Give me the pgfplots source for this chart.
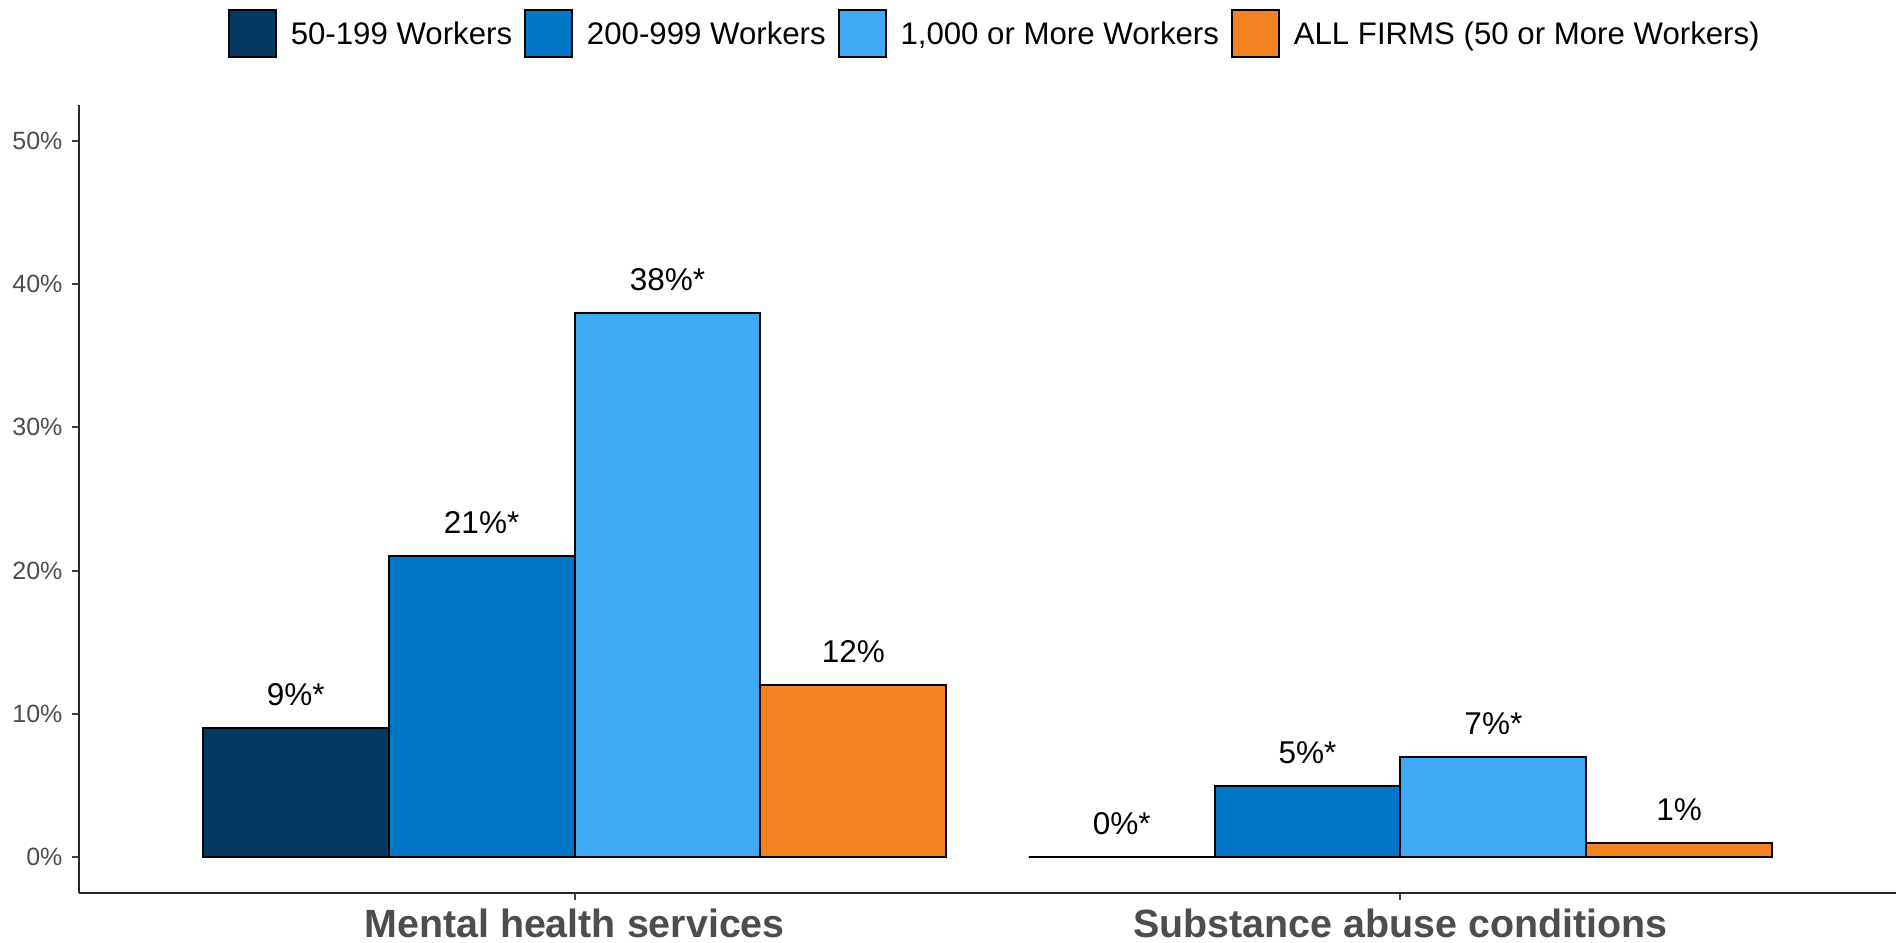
\documentclass[border=0pt]{standalone}
\usepackage{fontspec}
\setmainfont{Liberation Sans}
\usepackage{pgfplots}
\pgfplotsset{compat=1.18}
\definecolor{c1}{HTML}{023A62}
\definecolor{c2}{HTML}{0077C8}
\definecolor{c3}{HTML}{3FA9F5}
\definecolor{c4}{HTML}{F58220}
\definecolor{tickgray}{HTML}{4D4D4D}
\begin{document}
\begin{tikzpicture}
\begin{axis}[
  name=ax,
  scale only axis, width=908.5pt, height=394pt,
  xmin=0.4, xmax=2.6, ymin=-2.5, ymax=52.5,
  axis x line*=bottom, axis y line*=left,
  axis line style={line width=1.1pt, black!85},
  xtick={1,2}, xticklabels={Mental health services, Substance abuse conditions},
  ytick={0,10,20,30,40,50}, yticklabels={0\%,10\%,20\%,30\%,40\%,50\%},
  tick align=outside, major tick length=3.5pt,
  tick style={line width=1pt, black!75},
  xticklabel style={font=\fontsize{19.7pt}{22pt}\selectfont\bfseries, text=tickgray, inner sep=0pt, yshift=-4.5pt},
  yticklabel style={font=\fontsize{12.5pt}{14pt}\selectfont, text=tickgray, inner sep=0pt, xshift=-4.6pt},
  ybar, bar width=0.225,
  every axis plot/.append style={draw=black, line width=1pt},
  nodes near coords, point meta=explicit symbolic,
  every node near coord/.append style={anchor=base, yshift=11.25pt, inner sep=0pt, font=\fontsize{15.75pt}{18pt}\selectfont, text=black},
  legend columns=4,
  legend image code/.code={\draw[#1, draw=black, line width=0.9pt] (0pt,-11.75pt) rectangle (23.5pt,11.75pt);},
  legend style={at={(0.082,1.0907)}, anchor=west, draw=none, fill=none, inner sep=0pt, outer sep=0pt,
    font=\fontsize{15.6pt}{18pt}\selectfont,
    nodes={inner sep=0pt, text height=11.2pt, text depth=0pt},
    /tikz/every odd column/.append style={column sep=7pt},
    /tikz/every even column/.append style={column sep=6pt}},
]
\addplot[fill=c1, bar shift=-0.3375] coordinates {(1,9) [9\%*] (2,0) [0\%*]};
\addplot[fill=c2, bar shift=-0.1125] coordinates {(1,21) [21\%*] (2,5) [5\%*]};
\addplot[fill=c3, bar shift=0.1125] coordinates {(1,38) [38\%*] (2,7) [7\%*]};
\addplot[fill=c4, bar shift=0.3375] coordinates {(1,12) [12\%] (2,1) [1\%]};
\legend{50-199 Workers, 200-999 Workers, {1,000 or More Workers}, {ALL FIRMS (50 or More Workers)}}
\end{axis}
\pgfresetboundingbox
\path ([shift={(-39.5pt,-24.5pt)}]ax.south west) rectangle ([shift={(2pt,52.5pt)}]ax.north east);
\end{tikzpicture}
\end{document}
